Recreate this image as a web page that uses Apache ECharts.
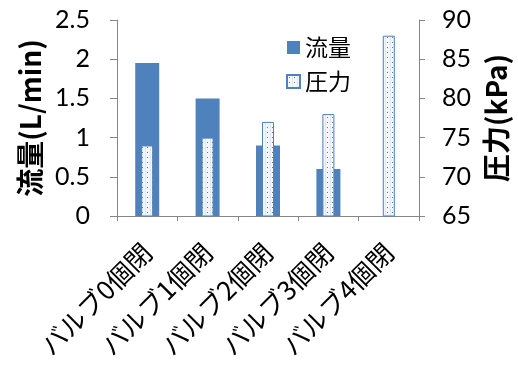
<!DOCTYPE html>
<html>
<head>
<meta charset="utf-8">
<script src="https://cdn.jsdelivr.net/npm/echarts@6/dist/echarts.min.js"></script>
<style>
html,body{margin:0;padding:0;background:#fff;}
#chart{width:518px;height:367px;}
</style>
</head>
<body>
<div id="chart"></div>
<script>
// Valve states and measured values
const categories = ['バルブ0個閉', 'バルブ1個閉', 'バルブ2個閉', 'バルブ3個閉', 'バルブ4個閉'];
const flowValues = [1.95, 1.5, 0.9, 0.6, 0];       // L/min
const pressureValues = [74, 75, 77, 78, 88];       // kPa
const flowTicks = { min: 0, max: 2.5, interval: 0.5 };
const pressureTicks = { min: 65, max: 90, interval: 5 };

// Dotted fill used for the pressure bars
function dotPattern() {
  const c = document.createElement('canvas');
  c.width = 5; c.height = 5;
  const g = c.getContext('2d');
  g.fillStyle = '#f3f6fa';
  g.fillRect(0, 0, 5, 5);
  g.fillStyle = '#dfe7f1';
  g.fillRect(0, 0, 1, 5);
  g.fillStyle = '#6f7885';
  g.fillRect(2, 2, 1, 1);
  return c;
}

const blue = '#4F81BD';
const axisGray = '#868686';
const numFont = 'Lato, "Noto Sans", sans-serif';
const jpFont = '"Noto Sans CJK JP", sans-serif';

const chart = echarts.init(document.getElementById('chart'));
const pattern = { image: dotPattern(), repeat: 'repeat' };

chart.setOption({
  animation: false,
  grid: { left: 117, right: 99, top: 20, bottom: 151 },
  legend: {
    orient: 'vertical',
    left: 281,
    top: 31,
    itemWidth: 13,
    itemHeight: 13,
    itemGap: 11,
    textStyle: { fontFamily: jpFont, fontSize: 23, color: '#000' },
    data: [
      { name: '流量', icon: 'rect' },
      { name: '圧力', icon: 'rect' }
    ]
  },
  xAxis: [
    {
      type: 'category',
      data: categories,
      axisLine: { lineStyle: { color: axisGray, width: 1 } },
      axisTick: { show: true, length: 5, lineStyle: { color: axisGray } },
      axisLabel: {
        rotate: 45, margin: 32, interval: 0,
        fontFamily: jpFont, fontSize: 26, color: '#000'
      }
    },
    {
      type: 'category',
      data: categories,
      show: false
    }
  ],
  yAxis: [
    {
      type: 'value',
      min: flowTicks.min, max: flowTicks.max, interval: flowTicks.interval,
      name: '流量(L/min)',
      nameLocation: 'middle',
      nameRotate: 90,
      nameGap: 73,
      nameTextStyle: { fontFamily: jpFont, fontSize: 28, fontWeight: 'bold', color: '#000' },
      axisLine: { show: true, lineStyle: { color: axisGray } },
      axisTick: { show: true, length: 7, lineStyle: { color: axisGray } },
      axisLabel: { margin: 27, fontFamily: numFont, fontSize: 25, color: '#000' },
      splitLine: { show: false }
    },
    {
      type: 'value',
      position: 'right',
      min: pressureTicks.min, max: pressureTicks.max, interval: pressureTicks.interval,
      name: '圧力(kPa)',
      nameLocation: 'middle',
      nameRotate: 90,
      nameGap: 62,
      nameTextStyle: { fontFamily: jpFont, fontSize: 28, fontWeight: 'bold', color: '#000' },
      axisLine: { show: true, lineStyle: { color: axisGray } },
      axisTick: { show: true, length: 6, lineStyle: { color: axisGray } },
      axisLabel: { margin: 23, fontFamily: numFont, fontSize: 25, color: '#000' },
      splitLine: { show: false }
    }
  ],
  series: [
    {
      name: '流量',
      type: 'bar',
      xAxisIndex: 0,
      yAxisIndex: 0,
      barWidth: 24,
      data: flowValues,
      itemStyle: { color: blue }
    },
    {
      name: '圧力',
      type: 'bar',
      xAxisIndex: 1,
      yAxisIndex: 1,
      barWidth: 12,
      data: pressureValues,
      itemStyle: { color: pattern, borderColor: blue, borderWidth: 1 }
    }
  ]
});
</script>
</body>
</html>
